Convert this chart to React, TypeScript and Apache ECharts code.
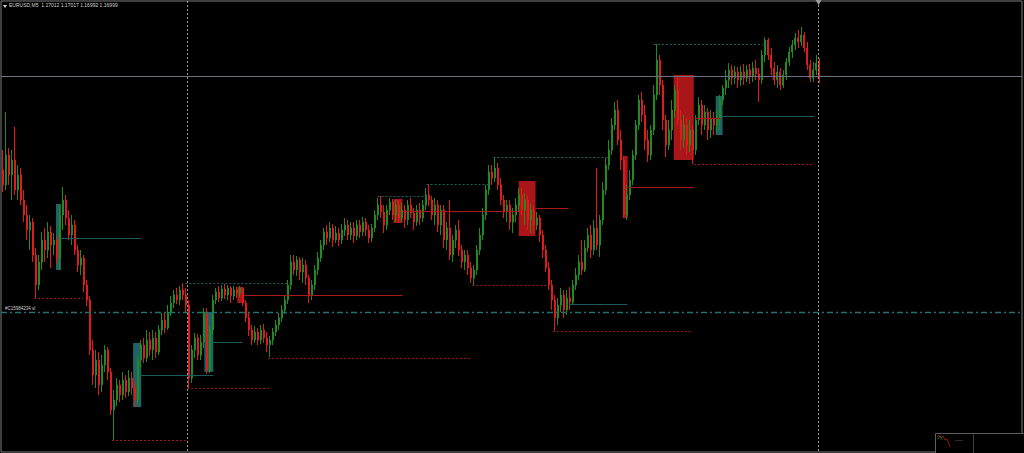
import React, { useEffect, useRef } from "react";
import * as echarts from "echarts";

const SYMBOL = "EURUSD,M5";
// Prices are kept as points (0.00001) above this base price.
const BASE_PRICE = 1.16;
const POINT = 0.00001;
// Bars plus the empty chart-shift space to the right of the last bar.
const TOTAL_SLOTS = 340;
const VIEW_LOW = 623;
const VIEW_HIGH = 1074;
const ORDER_LABEL = "#C15984234 sl";
const STOP_LOSS = 763;

// M5 bars, in points above BASE_PRICE
const opens = [
  905, 890, 920, 900, 915, 885, 900, 875, 860, 845,
  853, 820, 790, 813, 835, 825, 843, 830, 835, 817,
  860, 875, 857, 840, 850, 825, 810, 817, 790, 775,
  725, 700, 715, 690, 710, 725, 703, 665, 675, 690,
  680, 695, 683, 697, 687, 675, 715, 730, 717, 735,
  725, 737, 723, 745, 755, 747, 763, 772, 780, 775,
  785, 780, 770, 697, 725, 737, 720, 733, 763, 705,
  745, 775, 783, 777, 786, 780, 787, 779, 785, 782,
  787, 772, 757, 745, 735, 743, 735, 745, 737, 730,
  735, 743, 750, 757, 765, 775, 790, 813, 805, 815,
  803, 810, 797, 780, 790, 805, 817, 830, 843, 837,
  847, 835, 842, 835, 845, 850, 840, 847, 839, 850,
  843, 853, 845, 837, 847, 860, 870, 863, 850, 865,
  873, 860, 870, 857, 865, 855, 870, 862, 853, 865,
  857, 870, 880, 875, 860, 870, 850, 865, 835, 847,
  820, 835, 845, 825, 813, 820, 807, 797, 805, 825,
  840, 860, 885, 903, 897, 907, 890, 875, 863, 870,
  853, 860, 870, 880, 865, 875, 855, 865, 850, 857,
  840, 825, 807, 790, 775, 757, 770, 780, 765, 777,
  773, 790, 800, 813, 805, 827, 840, 825, 847, 830,
  855, 885, 910, 925, 950, 965, 935, 915, 860, 880,
  895, 920, 950, 975, 960, 935, 920, 945, 980, 1015,
  990, 955, 930, 945, 965, 985, 955, 935, 950, 930,
  945, 925, 955, 970, 950, 963, 945, 957, 950, 957,
  975, 987, 995, 1005, 997, 1003, 995, 1003, 997, 1005,
  999, 1007, 1001, 995, 1020, 1035, 1020, 1007, 995, 1003,
  990, 1000, 1013, 1023, 1030, 1037, 1033, 1040, 1027, 1010,
  997, 1005, 1012,
];

const closes = [
  890, 920, 900, 915, 885, 900, 875, 860, 845, 853,
  820, 790, 813, 835, 825, 843, 830, 835, 817, 860,
  875, 857, 840, 850, 825, 810, 817, 790, 775, 725,
  700, 715, 690, 710, 725, 703, 665, 675, 690, 680,
  695, 683, 697, 687, 675, 715, 730, 717, 735, 725,
  737, 723, 745, 755, 747, 763, 772, 780, 775, 785,
  780, 770, 697, 725, 737, 720, 733, 763, 705, 745,
  775, 783, 777, 786, 780, 787, 779, 785, 782, 787,
  772, 757, 745, 735, 743, 735, 745, 737, 730, 735,
  743, 750, 757, 765, 775, 790, 813, 805, 815, 803,
  810, 797, 780, 790, 805, 817, 830, 843, 837, 847,
  835, 842, 835, 845, 850, 840, 847, 839, 850, 843,
  853, 845, 837, 847, 860, 870, 863, 850, 865, 873,
  860, 870, 857, 865, 855, 870, 862, 853, 865, 857,
  870, 880, 875, 860, 870, 850, 865, 835, 847, 820,
  835, 845, 825, 813, 820, 807, 797, 805, 825, 840,
  860, 885, 903, 897, 907, 890, 875, 863, 870, 853,
  860, 870, 880, 865, 875, 855, 865, 850, 857, 840,
  825, 807, 790, 775, 757, 770, 780, 765, 777, 773,
  790, 800, 813, 805, 827, 840, 825, 847, 830, 855,
  885, 910, 925, 950, 965, 935, 915, 860, 880, 895,
  920, 950, 975, 960, 935, 920, 945, 980, 1015, 990,
  955, 930, 945, 965, 985, 955, 935, 950, 930, 945,
  925, 955, 970, 950, 963, 945, 957, 950, 957, 975,
  987, 995, 1005, 997, 1003, 995, 1003, 997, 1005, 999,
  1007, 1001, 995, 1020, 1035, 1020, 1007, 995, 1003, 990,
  1000, 1013, 1023, 1030, 1037, 1033, 1040, 1027, 1010, 997,
  1005, 1012, 999,
];

const highs = [
  925, 963, 927, 925, 948, 910, 907, 885, 870, 860,
  857, 827, 820, 843, 847, 853, 849, 842, 840, 870,
  888, 880, 865, 860, 855, 830, 825, 820, 795, 779,
  735, 725, 723, 720, 730, 728, 707, 685, 697, 695,
  703, 700, 705, 703, 693, 720, 735, 737, 745, 743,
  745, 743, 750, 762, 763, 770, 779, 785, 787, 789,
  792, 787, 775, 730, 742, 741, 740, 767, 767, 750,
  780, 787, 789, 790, 791, 790, 789, 789, 788, 789,
  788, 775, 763, 750, 749, 747, 750, 751, 743, 739,
  747, 755, 762, 770, 779, 795, 820, 820, 819, 818,
  817, 815, 800, 795, 810, 823, 835, 847, 850, 853,
  851, 849, 847, 851, 857, 855, 853, 853, 855, 855,
  858, 857, 850, 851, 865, 877, 879, 870, 870, 877,
  876, 875, 875, 872, 870, 875, 877, 867, 870, 872,
  875, 887, 891, 879, 877, 875, 870, 870, 853, 875,
  840, 850, 855, 830, 825, 825, 813, 810, 830, 847,
  867, 890, 910, 910, 918, 912, 897, 880, 875, 875,
  867, 877, 887, 887, 882, 880, 871, 870, 863, 860,
  845, 830, 813, 795, 780, 777, 787, 785, 785, 788,
  795, 807, 820, 835, 835, 847, 850, 855, 907, 860,
  893, 917, 935, 957, 973, 975, 945, 919, 890, 905,
  925, 955, 980, 983, 970, 945, 950, 990, 1031, 1020,
  995, 960, 955, 975, 990, 997, 965, 960, 957, 955,
  950, 960, 978, 975, 970, 967, 965, 963, 965, 980,
  990, 1005, 1012, 1010, 1009, 1008, 1009, 1011, 1010, 1011,
  1013, 1015, 1007, 1025, 1038, 1037, 1027, 1013, 1010, 1007,
  1005, 1017, 1028, 1035, 1042, 1045, 1048, 1043, 1033, 1015,
  1013, 1020, 1017,
];

const lows = [
  883, 885, 890, 875, 880, 875, 870, 853, 835, 825,
  813, 777, 785, 805, 813, 817, 807, 820, 810, 805,
  845, 850, 835, 830, 820, 803, 800, 783, 769, 720,
  690, 687, 680, 683, 703, 695, 660, 635, 669, 673,
  675, 677, 679, 680, 668, 670, 707, 712, 713, 719,
  715, 717, 720, 740, 742, 745, 759, 767, 771, 770,
  775, 763, 687, 692, 717, 715, 715, 727, 701, 702,
  740, 771, 773, 774, 776, 775, 772, 775, 777, 778,
  769, 753, 739, 730, 732, 730, 731, 732, 723, 718,
  730, 739, 745, 753, 761, 771, 785, 800, 799, 795,
  792, 790, 772, 775, 785, 800, 813, 825, 830, 833,
  828, 832, 829, 831, 839, 835, 835, 832, 835, 837,
  839, 839, 832, 833, 843, 855, 857, 842, 845, 860,
  855, 853, 852, 853, 847, 850, 857, 845, 849, 850,
  853, 865, 869, 855, 850, 843, 840, 827, 825, 815,
  813, 827, 819, 807, 805, 800, 792, 790, 800, 820,
  835, 855, 880, 890, 893, 885, 870, 857, 853, 845,
  842, 853, 863, 860, 850, 845, 842, 842, 845, 833,
  817, 803, 785, 765, 744, 750, 763, 757, 760, 765,
  770, 785, 795, 800, 803, 823, 817, 820, 825, 818,
  850, 880, 905, 920, 945, 930, 905, 857, 855, 875,
  890, 915, 945, 953, 925, 913, 915, 940, 975, 980,
  945, 918, 925, 935, 957, 950, 925, 927, 920, 923,
  911, 920, 950, 940, 945, 935, 937, 940, 943, 945,
  970, 980, 987, 990, 991, 987, 989, 990, 993, 991,
  993, 995, 973, 991, 1013, 1015, 1000, 990, 987, 985,
  987, 995, 1009, 1017, 1025, 1027, 1029, 1023, 1005, 993,
  993, 1000, 992,
];

// Order blocks: [from bar, to bar, top, bottom]
const bullBlocks = [
  [17.8, 19.5, 871, 805],
  [43.5, 46.2, 732, 668],
  [67.2, 70.2, 763, 703],
  [237.5, 239.8, 979, 940],
];
const bearBlocks = [
  [78.2, 79.9, 788, 772],
  [130.2, 133.2, 876, 852],
  [171.9, 177.5, 894, 839],
  [206.9, 208.2, 919, 857],
  [223.5, 230.2, 1000, 915],
];

// Block mid levels: [from bar, to bar, price]
const bullLevels = [
  [19.2, 46.2, 837],
  [46.2, 70.2, 700],
  [70.2, 79.9, 733],
  [188.7, 208.0, 771],
  [239.8, 270.2, 959],
];
const bearLevels = [
  [80.2, 133.2, 780],
  [133.2, 171.9, 864],
  [177.5, 188.5, 867],
  [208.5, 230.2, 888],
  [230.5, 239.2, 957],
];

// Swing structure (dotted): [from bar, to bar, price]
const swingHighs = [
  [60.9, 95.9, 792],
  [124.9, 141.2, 879],
  [141.2, 162.5, 891],
  [163.5, 201.5, 918],
  [216.9, 253.2, 1031],
];
const swingLows = [
  [10.5, 26.9, 777],
  [36.5, 61.5, 635],
  [61.5, 88.5, 687],
  [88.5, 155.9, 717],
  [156.5, 181.5, 790],
  [183.2, 229.9, 744],
  [230.2, 270.2, 911],
];

// Period separator and chart-shift marker (bar positions)
const separators = [61.5, 271.6];

const FONT = "Liberation Sans";
const toPrice = (p: number) => Math.round((BASE_PRICE + p * POINT) * 1e5) / 1e5;
const fmt = (p: number) => toPrice(p).toFixed(5);

const last = closes.length - 1;
const headline = `${SYMBOL}  ${fmt(opens[last])} ${fmt(highs[last])} ${fmt(lows[last])} ${fmt(closes[last])}`;

function segmentSeries(rows: number[][], stroke: string, dash: number[] | null, z: number) {
  return {
    type: "custom",
    xAxisIndex: 1,
    yAxisIndex: 0,
    silent: true,
    z,
    clip: false,
    data: rows.map(([a, b, p]) => [a, b, toPrice(p)]),
    encode: { x: [0, 1], y: 2 },
    renderItem: (_params: any, api: any) => {
      const s = api.coord([api.value(0), api.value(2)]);
      const e = api.coord([api.value(1), api.value(2)]);
      const y = Math.round(s[1]) + 0.5;
      const style: any = { stroke, lineWidth: 1 };
      if (dash) style.lineDash = dash;
      return { type: "line", shape: { x1: s[0], y1: y, x2: e[0], y2: y }, style };
    },
  };
}

function blockSeries(rows: number[][], fill: string, z: number) {
  return {
    type: "custom",
    xAxisIndex: 1,
    yAxisIndex: 0,
    silent: true,
    z,
    clip: false,
    data: rows.map(([a, b, t, btm]) => [a, b, toPrice(t), toPrice(btm)]),
    encode: { x: [0, 1], y: [2, 3] },
    renderItem: (_params: any, api: any) => {
      const p1 = api.coord([api.value(0), api.value(2)]);
      const p2 = api.coord([api.value(1), api.value(3)]);
      return {
        type: "rect",
        shape: { x: p1[0], y: p1[1], width: p2[0] - p1[0], height: p2[1] - p1[1] },
        style: { fill },
      };
    },
  };
}

function buildOption() {
  const candles = closes.map((c, i) => [toPrice(opens[i]), toPrice(c), toPrice(lows[i]), toPrice(highs[i])]);
  const slots = Array.from({ length: TOTAL_SLOTS }, (_, i) => String(i));
  const fullWidth = (p: number) => [[-0.5, TOTAL_SLOTS - 0.5, p]];

  return {
    animation: false,
    backgroundColor: "#000000",
    title: {
      text: headline,
      left: 9,
      top: 2,
      padding: 0,
      textStyle: { color: "#d2d2d2", fontSize: 5, fontWeight: "normal", fontFamily: FONT },
    },
    grid: {
      left: 1,
      right: 2,
      top: 1,
      bottom: 1,
      show: true,
      borderColor: "#7c7c7c",
      borderWidth: 1,
      backgroundColor: "#000000",
    },
    xAxis: [
      { type: "category", data: slots, show: false, boundaryGap: true },
      { type: "value", min: -0.5, max: TOTAL_SLOTS - 0.5, show: false },
    ],
    yAxis: {
      type: "value",
      min: toPrice(VIEW_LOW),
      max: toPrice(VIEW_HIGH),
      show: false,
      splitLine: { show: false },
    },
    graphic: [
      {
        type: "polygon",
        shape: { points: [[3, 5], [7, 5], [5, 8]] },
        style: { fill: "#d2d2d2" },
        z: 20,
      },
      {
        type: "group",
        z: 20,
        children: [
          { type: "rect", shape: { x: 935.5, y: 433.5, width: 90, height: 21 }, style: { fill: "#000", stroke: "#5e5e5e", lineWidth: 1 } },
          { type: "line", shape: { x1: 973.5, y1: 434, x2: 973.5, y2: 453 }, style: { stroke: "#3c3c3c", lineWidth: 1 } },
          { type: "line", shape: { x1: 955, y1: 440.5, x2: 963, y2: 440.5 }, style: { stroke: "#2a2a2a", lineWidth: 1 } },
          {
            type: "polyline",
            shape: { points: [[937, 437], [939, 435], [941, 438], [943, 436], [945, 440], [947, 439], [949, 444], [950, 447]] },
            style: { stroke: "#8c1414", lineWidth: 1, fill: null },
          },
          {
            type: "polyline",
            shape: { points: [[938, 439], [940, 436], [942, 440]] },
            style: { stroke: "#1e6a1e", lineWidth: 1, fill: null },
          },
        ],
      },
    ],
    series: [
      blockSeries(bullBlocks, "#1e6268", 1),
      blockSeries(bearBlocks, "#a8161a", 1),
      {
        type: "candlestick",
        xAxisIndex: 0,
        yAxisIndex: 0,
        data: candles,
        barWidth: 1.5,
        silent: true,
        z: 2,
        itemStyle: {
          color: "#1f8c1f",
          color0: "#e21a1a",
          borderColor: "#1f8c1f",
          borderColor0: "#e21a1a",
          borderWidth: 1,
        },
      },
      segmentSeries(bullLevels, "#1c5a5e", null, 3),
      segmentSeries(bearLevels, "#a81818", null, 3),
      segmentSeries(swingHighs, "#1d6469", [2, 2], 3),
      segmentSeries(swingLows, "#a01c1c", [2, 2], 3),
      segmentSeries(fullWidth(closes[last]), "#6a7080", null, 4),
      {
        type: "custom",
        xAxisIndex: 1,
        yAxisIndex: 0,
        silent: true,
        z: 4,
        clip: false,
        data: fullWidth(STOP_LOSS).map(([a, b, p]) => [a, b, toPrice(p)]),
        encode: { x: [0, 1], y: 2 },
        renderItem: (_params: any, api: any) => {
          const s = api.coord([api.value(0), api.value(2)]);
          const e = api.coord([api.value(1), api.value(2)]);
          const y = Math.round(s[1]) + 0.5;
          return {
            type: "group",
            children: [
              {
                type: "line",
                shape: { x1: s[0], y1: y, x2: e[0], y2: y },
                style: { stroke: "#1f7070", lineWidth: 1.3, lineDash: [6, 3, 2, 3] },
              },
              {
                type: "text",
                x: s[0] + 4,
                y: y - 2,
                style: {
                  text: ORDER_LABEL,
                  fill: "#cfcfcf",
                  fontSize: 4.5,
                  fontFamily: FONT,
                  verticalAlign: "bottom",
                  align: "left",
                },
              },
            ],
          };
        },
      },
      {
        type: "custom",
        xAxisIndex: 1,
        yAxisIndex: 0,
        silent: true,
        z: 4,
        clip: false,
        data: separators.map((x) => [x, toPrice(VIEW_LOW), toPrice(VIEW_HIGH)]),
        encode: { x: 0, y: [1, 2] },
        renderItem: (params: any, api: any) => {
          const top = api.coord([api.value(0), api.value(2)]);
          const bot = api.coord([api.value(0), api.value(1)]);
          const x = Math.round(top[0]) + 0.5;
          const children: any[] = [
            {
              type: "line",
              shape: { x1: x, y1: top[1], x2: x, y2: bot[1] },
              style: { stroke: "#9c9c9c", lineWidth: 1, lineDash: [2, 2] },
            },
          ];
          if (params.dataIndex === separators.length - 1) {
            children.push({
              type: "polygon",
              shape: { points: [[x - 3, top[1] - 1], [x + 3, top[1] - 1], [x, top[1] + 4]] },
              style: { fill: "#9c9c9c" },
            });
          }
          return { type: "group", children };
        },
      },
    ],
  };
}

export default function App() {
  const ref = useRef<HTMLDivElement>(null);

  useEffect(() => {
    if (!ref.current) return;
    const chart = echarts.init(ref.current, undefined, { renderer: "svg", width: 1024, height: 453 });
    chart.setOption(buildOption() as any);
    return () => chart.dispose();
  }, []);

  return (
    <div
      ref={ref}
      style={{ position: "fixed", left: 0, top: 0, width: 1024, height: 453, background: "#000" }}
    />
  );
}
